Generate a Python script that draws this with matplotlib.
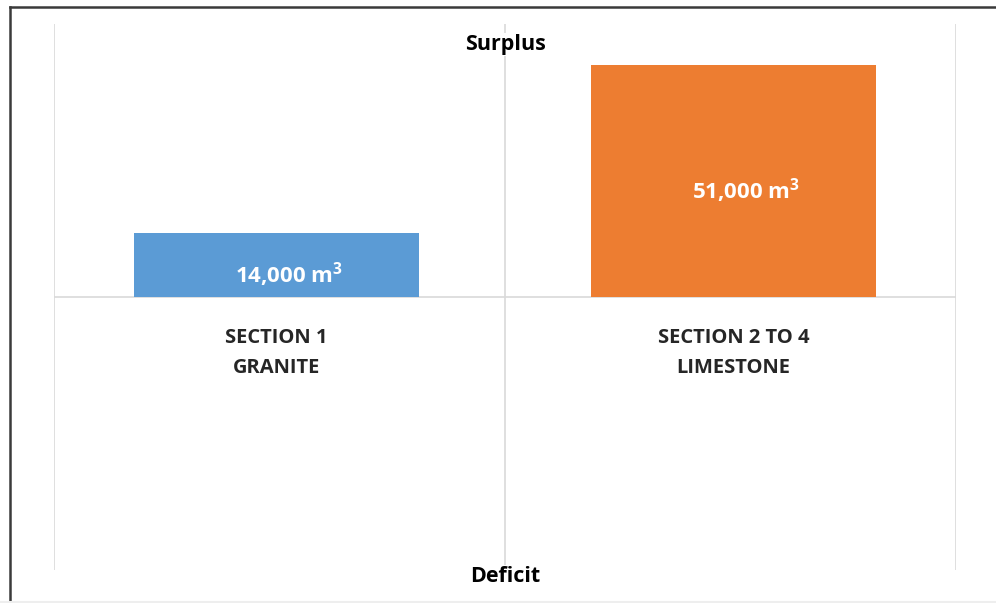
import matplotlib
matplotlib.use("Agg")
import matplotlib.pyplot as plt
from matplotlib.lines import Line2D

categories = ["SECTION 1\nGRANITE", "SECTION 2 TO 4\nLIMESTONE"]
values = [14000, 51000]
value_labels = [r"14,000 m$^{\mathbf{3}}$", r"51,000 m$^{\mathbf{3}}$"]
colors = ["#5B9BD5", "#ED7D31"]
top_label = "Surplus"
bottom_label = "Deficit"

plt.rcParams['font.family'] = ['Open Sans', 'DejaVu Sans']
plt.rcParams['mathtext.fontset'] = 'custom'
plt.rcParams['mathtext.rm'] = 'Open Sans'
plt.rcParams['mathtext.bf'] = 'Open Sans:bold'

fig = plt.figure(figsize=(9.96, 6.03), dpi=100)
W, H = 996, 603
ax = fig.add_axes([54 / W, 1 - 570 / H, (956 - 54) / W, (570 - 24) / H])

xpos = [1, 3]
ax.bar(xpos, values, width=1.247, color=colors, zorder=3)
ax.set_xlim(0.026, 3.974)
ax.set_ylim(-60000, 60000)

grid_c = "#D9D9D9"
for x in [0.026, 2, 3.974]:
    ax.axvline(x, color=grid_c, lw=1.2, zorder=1)
ax.axhline(0, color=grid_c, lw=1.2, zorder=2)

for s in ax.spines.values():
    s.set_visible(False)
ax.set_xticks([])
ax.set_yticks([])

for x, v, lab in zip(xpos, values, value_labels):
    ax.text(x + 0.055, v / 2 - 2000, lab, ha='center', va='center', color='white',
            fontsize=16, fontweight='bold', zorder=4)

for x, c in zip(xpos, categories):
    ax.text(x, -12300, c, ha='center', va='center', color='#262626',
            fontsize=14.5, fontweight='bold', linespacing=1.62, zorder=4)

ax.text(2, 55500, top_label, ha='center', va='center', color='black',
        fontsize=15.5, fontweight='bold', zorder=4,
        bbox=dict(facecolor='white', edgecolor='none', pad=1))
ax.text(2, -61500, bottom_label, ha='center', va='center', color='black',
        fontsize=15.5, fontweight='bold', zorder=4, clip_on=False,
        bbox=dict(facecolor='white', edgecolor='none', pad=1))

# outer border (left and top dark, bottom faint)
fig.lines.append(Line2D([10 / W, 10 / W], [1 - 7 / H, 0], transform=fig.transFigure,
                        color='#3A3A3A', lw=1.8))
fig.lines.append(Line2D([10 / W, 1], [1 - 7 / H, 1 - 7 / H], transform=fig.transFigure,
                        color='#3A3A3A', lw=1.8))
fig.lines.append(Line2D([0, 1], [1 - 601.5 / H, 1 - 601.5 / H], transform=fig.transFigure,
                        color='#EEEEEE', lw=1.5))

fig.savefig("out.png", dpi=100)
